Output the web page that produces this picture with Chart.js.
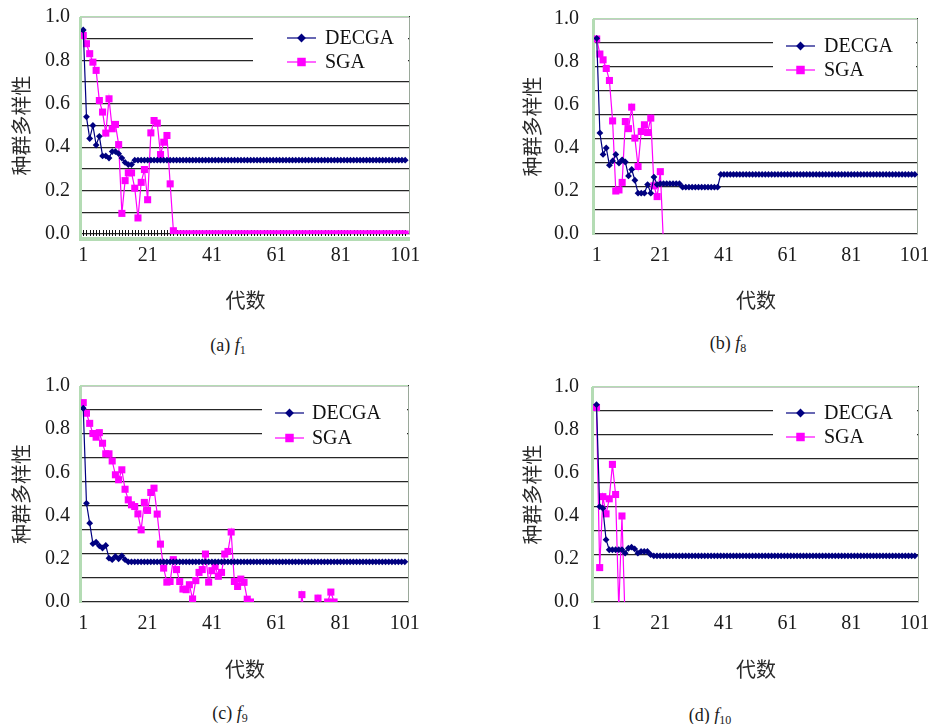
<!doctype html>
<html lang="zh">
<head>
<meta charset="utf-8">
<title>种群多样性</title>
<script src="https://cdn.jsdelivr.net/npm/chart.js@4.4.1/dist/chart.umd.min.js"></script>
<style>
  body { margin: 0; background: #fff; font-family: "Liberation Serif", serif; }
  #page { position: relative; width: 928px; height: 724px; overflow: hidden; }
  .panel { position: absolute; }
  .cap {
    position: absolute; transform: translate(-50%, -50%);
    font-family: "Liberation Serif", serif; font-size: 18px; color: #1a1a1a;
    white-space: nowrap; line-height: 22px;
  }
  .cap sub { font-size: 12px; vertical-align: -3px; line-height: 0; }
</style>
</head>
<body>
<div id="page">
  <div class="panel" style="left:0;top:0"><canvas id="fa" width="464" height="320"></canvas></div>
  <div class="panel" style="left:464px;top:0"><canvas id="fb" width="464" height="320"></canvas></div>
  <div class="panel" style="left:0;top:369px"><canvas id="fc" width="464" height="320"></canvas></div>
  <div class="panel" style="left:464px;top:369px"><canvas id="fd" width="464" height="320"></canvas></div>

  <div class="cap" style="left:228px;top:345px">(a) <i>f</i><sub>1</sub></div>
  <div class="cap" style="left:728px;top:343px">(b) <i>f</i><sub>8</sub></div>
  <div class="cap" style="left:230px;top:713px">(c) <i>f</i><sub>9</sub></div>
  <div class="cap" style="left:710px;top:715px">(d) <i>f</i><sub>10</sub></div>
</div>

<script>
// generations on the x axis
const gens = Array.from({length: 101}, (_, i) => i + 1);
const xTicks = [1, 21, 41, 61, 81, 101];
const yTicks = [0, 0.2, 0.4, 0.6, 0.8, 1.0];
const seriesNames = ['DECGA', 'SGA'];
const xTitle = '代数';
const yTitle = '种群多样性';

// (a) f1
const f1Decga = [
  0.94, 0.54, 0.44, 0.50, 0.41, 0.45, 0.36, 0.36, 0.35, 0.38, 0.38, 0.37, 0.35, 0.33, 0.32, 0.32, 0.34,
  0.34, 0.34, 0.34, 0.34, 0.34, 0.34, 0.34, 0.34, 0.34, 0.34, 0.34, 0.34,
  0.34, 0.34, 0.34, 0.34, 0.34, 0.34, 0.34, 0.34, 0.34, 0.34, 0.34, 0.34,
  0.34, 0.34, 0.34, 0.34, 0.34, 0.34, 0.34, 0.34, 0.34, 0.34, 0.34, 0.34,
  0.34, 0.34, 0.34, 0.34, 0.34, 0.34, 0.34, 0.34, 0.34, 0.34, 0.34, 0.34,
  0.34, 0.34, 0.34, 0.34, 0.34, 0.34, 0.34, 0.34, 0.34, 0.34, 0.34, 0.34,
  0.34, 0.34, 0.34, 0.34, 0.34, 0.34, 0.34, 0.34, 0.34, 0.34, 0.34, 0.34,
  0.34, 0.34, 0.34, 0.34, 0.34, 0.34, 0.34, 0.34, 0.34, 0.34, 0.34, 0.34
];
const f1Sga = [
  0.915, 0.877, 0.831, 0.792, 0.754, 0.615, 0.562, 0.465, 0.623, 0.485,
  0.505, 0.412, 0.095, 0.246, 0.282, 0.282, 0.211, 0.074, 0.238, 0.297,
  0.158, 0.466, 0.523, 0.511, 0.366, 0.423, 0.454, 0.231, 0.015,
  0, 0, 0, 0, 0, 0, 0, 0, 0, 0, 0, 0,
  0, 0, 0, 0, 0, 0, 0, 0, 0, 0, 0, 0,
  0, 0, 0, 0, 0, 0, 0, 0, 0, 0, 0, 0,
  0, 0, 0, 0, 0, 0, 0, 0, 0, 0, 0, 0,
  0, 0, 0, 0, 0, 0, 0, 0, 0, 0, 0, 0,
  0, 0, 0, 0, 0, 0, 0, 0, 0, 0, 0, 0
];

// (b) f8
const f8Decga = [
  0.91, 0.47, 0.37, 0.40, 0.32, 0.34, 0.37, 0.33, 0.345, 0.335,
  0.27, 0.30, 0.25, 0.19, 0.19, 0.19, 0.23, 0.19, 0.265, 0.23,
  0.234, 0.234, 0.234, 0.234, 0.234, 0.234, 0.234,
  0.218, 0.218, 0.218, 0.218, 0.218, 0.218, 0.218, 0.218, 0.218, 0.218, 0.218, 0.218,
  0.277, 0.277, 0.277, 0.277, 0.277, 0.277, 0.277, 0.277, 0.277, 0.277, 0.277, 0.277,
  0.277, 0.277, 0.277, 0.277, 0.277, 0.277, 0.277, 0.277, 0.277, 0.277, 0.277, 0.277,
  0.277, 0.277, 0.277, 0.277, 0.277, 0.277, 0.277, 0.277, 0.277, 0.277, 0.277, 0.277,
  0.277, 0.277, 0.277, 0.277, 0.277, 0.277, 0.277, 0.277, 0.277, 0.277, 0.277, 0.277,
  0.277, 0.277, 0.277, 0.277, 0.277, 0.277, 0.277, 0.277, 0.277, 0.277, 0.277, 0.277,
  0.277, 0.277
];
const f8Sga = [
  0.907, 0.837, 0.81, 0.77, 0.714, 0.526, 0.20, 0.205, 0.24, 0.523,
  0.49, 0.59, 0.446, 0.314, 0.477, 0.508, 0.472, 0.539, 0.224, 0.174,
  0.29, -0.05
];

// (c) f9
const f9Decga = [
  0.897, 0.457, 0.365, 0.27, 0.277, 0.26, 0.25, 0.262, 0.203, 0.196, 0.211, 0.2, 0.214, 0.196,
  0.186, 0.186, 0.186, 0.186, 0.186, 0.186, 0.186, 0.186, 0.186, 0.186, 0.186, 0.186,
  0.186, 0.186, 0.186, 0.186, 0.186, 0.186, 0.186, 0.186, 0.186, 0.186, 0.186, 0.186,
  0.186, 0.186, 0.186, 0.186, 0.186, 0.186, 0.186, 0.186, 0.186, 0.186, 0.186, 0.186,
  0.186, 0.186, 0.186, 0.186, 0.186, 0.186, 0.186, 0.186, 0.186, 0.186, 0.186, 0.186,
  0.186, 0.186, 0.186, 0.186, 0.186, 0.186, 0.186, 0.186, 0.186, 0.186, 0.186, 0.186,
  0.186, 0.186, 0.186, 0.186, 0.186, 0.186, 0.186, 0.186, 0.186, 0.186, 0.186, 0.186,
  0.186, 0.186, 0.186, 0.186, 0.186, 0.186, 0.186, 0.186, 0.186, 0.186, 0.186, 0.186,
  0.186, 0.186, 0.186
];
const f9Sga = [
  0.923, 0.874, 0.827, 0.78, 0.763, 0.784, 0.735, 0.686, 0.686, 0.653,
  0.589, 0.566, 0.612, 0.522, 0.473, 0.45, 0.442, 0.408, 0.334, 0.461,
  0.424, 0.507, 0.527, 0.407, 0.268, 0.157, 0.092, 0.095, 0.196, 0.15,
  0.095, 0.06, 0.057, 0.08, 0.014, 0.099, 0.137, 0.15, 0.222, 0.092,
  0.145, 0.165, 0.119, 0.137, 0.222, 0.234, 0.324, 0.095, 0.072, 0.106,
  0.091, 0.013, 0,
  -0.1, -0.1, -0.1, -0.1, -0.1, -0.1, -0.1, -0.1, -0.1, -0.1, -0.1, -0.1, -0.1, -0.1, -0.1,
  0.034, -0.1, -0.1, -0.1, -0.1, 0.018, -0.1, -0.1, 0, 0.046, 0, -0.1
];

// (d) f10
const f10Decga = [
  0.918, 0.444, 0.436, 0.29, 0.243, 0.243, 0.243, 0.243, 0.243, 0.227,
  0.25, 0.255, 0.247, 0.227, 0.235, 0.235, 0.235, 0.22,
  0.215, 0.215, 0.215, 0.215, 0.215, 0.215, 0.215, 0.215, 0.215, 0.215, 0.215, 0.215,
  0.215, 0.215, 0.215, 0.215, 0.215, 0.215, 0.215, 0.215, 0.215, 0.215, 0.215, 0.215,
  0.215, 0.215, 0.215, 0.215, 0.215, 0.215, 0.215, 0.215, 0.215, 0.215, 0.215, 0.215,
  0.215, 0.215, 0.215, 0.215, 0.215, 0.215, 0.215, 0.215, 0.215, 0.215, 0.215, 0.215,
  0.215, 0.215, 0.215, 0.215, 0.215, 0.215, 0.215, 0.215, 0.215, 0.215, 0.215, 0.215,
  0.215, 0.215, 0.215, 0.215, 0.215, 0.215, 0.215, 0.215, 0.215, 0.215, 0.215, 0.215,
  0.215, 0.215, 0.215, 0.215, 0.215, 0.215, 0.215, 0.215, 0.215, 0.215, 0.215
];
const f10Sga = [0.905, 0.16, 0.49, 0.41, 0.48, 0.64, 0.50, -0.03, 0.40, -0.1];

const NAVY = '#000080';
const MAGENTA = '#ff00ff';
const serif = '"Liberation Serif", "Times New Roman", serif';
const cjk = '"Noto Sans CJK SC", sans-serif';

// draws the plot frame (green left edge) and, for (a), the little category ticks
const framePlugin = {
  id: 'frame',
  beforeDatasetsDraw(chart, args, opts) {
    const {ctx, chartArea: a} = chart;
    ctx.save();
    ctx.fillStyle = '#b4dcb4';
    ctx.fillRect(a.left - 2, a.top, 3, a.bottom - a.top + (opts.axisTicks ? 7 : 1));
    ctx.fillRect(a.left - 1, a.top - 1, a.right - a.left, 1);
    if (opts.axisTicks) {
      ctx.fillRect(a.left - 2, a.bottom + 3, a.right - a.left + 2, 4);
      ctx.strokeStyle = '#111';
      ctx.lineWidth = 1;
      const xs = chart.scales.x;
      gens.forEach(g => {
        const px = Math.round(xs.getPixelForValue(g)) + 0.5;
        ctx.beginPath();
        ctx.moveTo(px, a.bottom + 2);
        ctx.lineTo(px, a.bottom - 4);
        ctx.stroke();
      });
    }
    ctx.fillStyle = '#9aa89a';
    ctx.fillRect(a.right - 1, a.top, 1, a.bottom - a.top);
    ctx.restore();
  }
};

// legend in a white box that hides the grid lines behind it
const boxLegendPlugin = {
  id: 'boxLegend',
  afterDatasetsDraw(chart, args, o) {
    const {ctx, chartArea: a} = chart;
    ctx.save();
    ctx.fillStyle = '#fff';
    const bx = a.left + o.boxLeft;
    ctx.fillRect(bx, a.top + o.boxTop, a.right - 2 - bx, o.boxHeight);
    chart.data.datasets.forEach((ds, i) => {
      const y = a.top + o.rows[i];
      const x0 = bx + o.sampleLeft;
      ctx.strokeStyle = ds.borderColor;
      ctx.lineWidth = 1.2;
      ctx.beginPath();
      ctx.moveTo(x0, y);
      ctx.lineTo(x0 + 29, y);
      ctx.stroke();
      ctx.fillStyle = ds.borderColor;
      Chart.helpers.drawPoint(ctx, {
        pointStyle: ds.pointStyle, radius: i === 0 ? 4.4 : 6, rotation: 0, borderWidth: 0
      }, x0 + 14.5, y);
      ctx.fillStyle = '#111';
      ctx.font = '20px ' + serif;
      ctx.textBaseline = 'middle';
      ctx.textAlign = 'left';
      ctx.fillText(ds.label, x0 + o.textGap, y + 1);
    });
    ctx.restore();
  }
};

const panels = [
  {id: 'fa', decga: f1Decga, sga: f1Sga, xMin: 0.3, xMax: 102.5, gridSteps: 10,
   yWidth: 81, padRight: 54, top: 17, bottom: 234, titlePad: 9, tickPad: 3, axisTicks: true,
   legend: {boxLeft: 172, boxTop: 7, boxHeight: 51, sampleLeft: 34, textGap: 38, rows: [21, 45]}},
  {id: 'fb', decga: f8Decga, sga: f8Sga, xMin: 0.15, xMax: 102, gridSteps: 9,
   yWidth: 130, padRight: 10, top: 19, bottom: 234, titlePad: 56, tickPad: 7, axisTicks: false,
   legend: {boxLeft: 179, boxTop: 8, boxHeight: 56, sampleLeft: 13, textGap: 38, rows: [27, 51]}},
  {id: 'fc', decga: f9Decga, sga: f9Sga, xMin: 0.3, xMax: 102.3, gridSteps: 9,
   yWidth: 81, padRight: 55, top: 17, bottom: 233, titlePad: 9, tickPad: 3, axisTicks: false,
   legend: {boxLeft: 181, boxTop: 8, boxHeight: 56, sampleLeft: 13, textGap: 37, rows: [27, 52]}},
  {id: 'fd', decga: f10Decga, sga: f10Sga, xMin: -0.1, xMax: 102.3, gridSteps: 9,
   yWidth: 129, padRight: 9, top: 18, bottom: 233, titlePad: 56, tickPad: 6, axisTicks: false,
   legend: {boxLeft: 180, boxTop: 8, boxHeight: 56, sampleLeft: 13, textGap: 38, rows: [26, 50]}}
];

function makeChart(p) {
  const canvas = document.getElementById(p.id);
  return new Chart(canvas, {
    type: 'line',
    data: {
      labels: gens,
      datasets: [
        {label: seriesNames[0], data: p.decga, borderColor: NAVY, backgroundColor: NAVY,
         borderWidth: 1.2, pointStyle: 'rectRot', pointRadius: 3.4, pointBorderWidth: 0,
         pointBackgroundColor: NAVY, tension: 0},
        {label: seriesNames[1], data: p.sga, borderColor: MAGENTA, backgroundColor: MAGENTA,
         borderWidth: 1.2, pointStyle: 'rect', pointRadius: 5, pointBorderWidth: 0,
         pointBackgroundColor: MAGENTA, tension: 0}
      ]
    },
    options: {
      responsive: false,
      animation: false,
      devicePixelRatio: 1,
      layout: {padding: {left: 0, top: p.top, right: p.padRight, bottom: 0}},
      plugins: {
        legend: {display: false},
        tooltip: {enabled: false},
        frame: {axisTicks: p.axisTicks},
        boxLegend: p.legend
      },
      scales: {
        x: {
          type: 'linear', position: 'bottom', min: p.xMin, max: p.xMax,
          afterBuildTicks: s => { s.ticks = xTicks.map(v => ({value: v})); },
          afterFit: s => { s.height = 320 - p.bottom; s.paddingLeft = 0; s.paddingRight = 0; },
          grid: {display: false},
          border: {display: false},
          ticks: {font: {family: serif, size: 20}, color: '#1a1a1a', padding: 2,
                  maxRotation: 0, autoSkip: false},
          title: {display: true, text: xTitle, color: '#2a2a2a',
                  font: {family: cjk, size: 20}, padding: {top: 0, bottom: 8}}
        },
        y: {
          position: 'left', min: 0, max: 1,
          afterBuildTicks: s => { s.ticks = yTicks.map(v => ({value: v})); },
          afterFit: s => { s.width = p.yWidth; s.paddingTop = 0; s.paddingBottom = 0; },
          grid: {display: false},
          border: {display: false},
          ticks: {font: {family: serif, size: 20}, color: '#1a1a1a', padding: p.tickPad,
                  callback: v => v.toFixed(1)},
          title: {display: true, text: yTitle, color: '#2a2a2a',
                  font: {family: cjk, size: 20}, padding: {top: p.titlePad, bottom: 0}}
        },
        yg: {
          position: 'right', min: 0, max: p.gridSteps,
          afterFit: s => { s.width = 0; s.paddingTop = 0; s.paddingBottom = 0; },
          ticks: {display: false, stepSize: 1},
          grid: {color: '#262626', lineWidth: 1.3, drawTicks: false},
          border: {display: false}
        }
      }
    },
    plugins: [framePlugin, boxLegendPlugin]
  });
}

// make sure the local fonts are ready before the canvases are painted
Promise.all([
  document.fonts.load('20px "Liberation Serif"', 'DECGA0.123'),
  document.fonts.load('20px "Noto Sans CJK SC"', yTitle + xTitle)
]).catch(() => {}).then(() => panels.forEach(makeChart));
</script>
</body>
</html>
